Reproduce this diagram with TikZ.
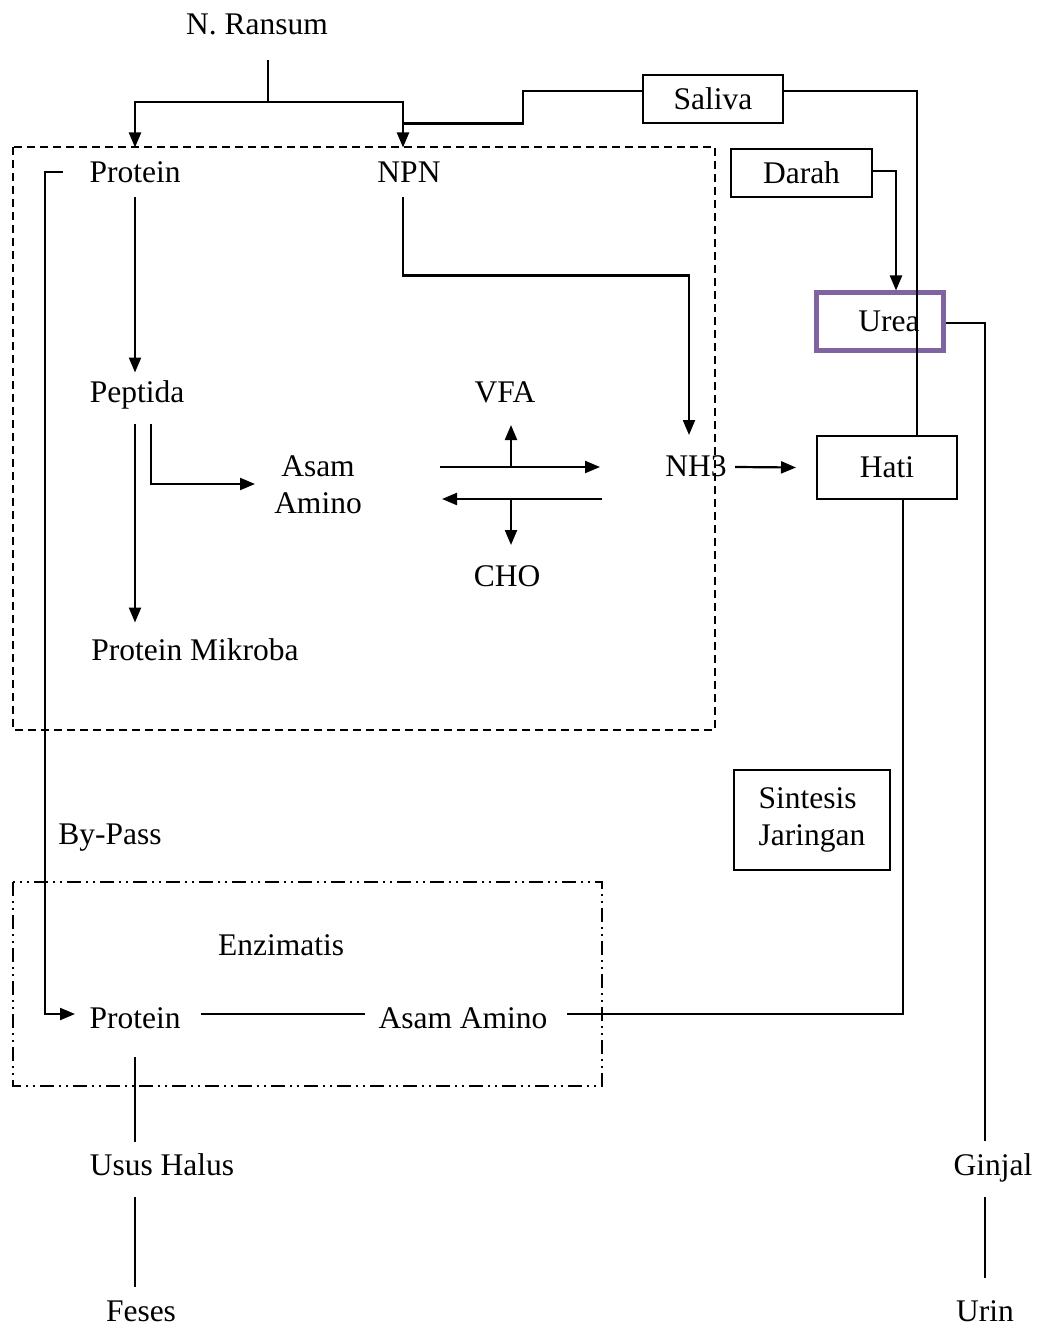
\documentclass[tikz,border=0pt]{standalone}
\usepackage{fontspec}
\setmainfont{Liberation Serif}
\usepackage{xcolor}
\usetikzlibrary{arrows.meta,calc}
\definecolor{ureapurple}{HTML}{8064A2}

\begin{document}
\begin{tikzpicture}[
    x=1pt,y=-1pt,
    >={Triangle[length=15pt,width=12pt]},
    every node/.style={font=\fontsize{31.5}{37}\selectfont},
    lbl/.style={inner sep=0pt,text height=21.1pt,text depth=5.3pt},
    box/.style={draw,line width=2pt,inner sep=0pt},
    link/.style={line width=2.2pt},
    arr/.style={link,->},
    rumenbox/.style={line width=1.6pt,dash pattern=on 8pt off 5pt},
    enzimbox/.style={line width=1.6pt,dash pattern=on 14pt off 5pt on 2pt off 5pt on 2pt off 5pt}
  ]
    \useasboundingbox (0,0) rectangle (1041,1329);
    % compartments
    \draw[rumenbox] (13,147) rectangle (715,730);
    \draw[enzimbox] (13,882) rectangle (602,1086);

    % texts
    \node[lbl] (ransum) at (257,26.5) {N. Ransum};
    \node[lbl] (protA) at (135,174.5) {Protein};
    \node[lbl] (npn) at (409,174.5) {NPN};
    \node[lbl] (pep) at (137,394.5) {Peptida};
    \node[lbl] (mikroba) at (195,652.5) {Protein Mikroba};
    \node[align=center,inner sep=0pt] (asamA) at (318,485) {Asam\\Amino};
    \node[lbl] (vfa) at (505,394.5) {VFA};
    \node[lbl] (cho) at (507,578.5) {CHO};
    \node[lbl] (nh) at (696,468.5) {NH3};
    \node[lbl] (bypass) at (110,836.5) {By-Pass};
    \node[lbl] (enzim) at (281,947.5) {Enzimatis};
    \node[lbl] (protB) at (135,1020.5) {Protein};
    \node[lbl] (asamB) at (463,1020.5) {Asam Amino};
    \node[lbl] (usus) at (162,1167.5) {Usus Halus};
    \node[lbl] (ginjal) at (993,1167.5) {Ginjal};
    \node[lbl] (feses) at (141,1314) {Feses};
    \node[lbl] (urin) at (985,1314) {Urin};

    % boxes
    \node[box,minimum width=140pt,minimum height=48pt] (saliva) at (713,99) {Saliva};
    \node[box,minimum width=141pt,minimum height=48pt] (darah) at (801.5,173) {Darah};
    \node[box,draw=ureapurple,line width=5pt,minimum width=127pt,minimum height=57pt] (urea) at (879.5,321.5) {\hspace{19pt}Urea};
    \node[box,minimum width=140pt,minimum height=63pt] (hati) at (887,467.5) {Hati};
    \node[box,align=left,minimum width=156pt,minimum height=100pt] (sintesis) at (812,820) {Sintesis\\Jaringan};

    % free ends of the fermentation arrows
    \coordinate (fwdL) at (440,467);
    \coordinate (fwdR) at (600,467);
    \coordinate (bwdL) at (442,499);
    \coordinate (bwdR) at (602,499);
    \coordinate (hubU) at (511,467);
    \coordinate (hubD) at (511,499);
    \coordinate (split) at (268,102);

    % feed
    \draw[link] ($(ransum)+(11,34)$) -- (split);
    \draw[arr] (split) -| ($(protA)+(0,-27)$);
    \draw[arr] (split) -| ($(npn)+(-6,-27)$);
    \draw[link] ($(npn)+(-6,-51)$) -- (523,123.5) |- ($(saliva.west)+(0,-8)$);
    \draw[link] ($(saliva.east)+(0,-8)$) -| ($(hati.north)+(30,0)$);

    % rumen
    \draw[arr] ($(protA)+(0,23)$) -- ($(pep)+(-2,-22)$);
    \draw[arr] ($(pep)+(-2,29)$) -- ($(mikroba)+(-60,-30)$);
    \draw[arr] ($(pep)+(14,29)$) |- ($(asamA)+(-63,-1)$);
    \draw[arr] (fwdL) -- (fwdR);
    \draw[arr] (bwdR) -- (bwdL);
    \draw[arr] (hubU) -- ($(vfa)+(6,30.5)$);
    \draw[arr] (hubD) -- ($(cho)+(4,-33.5)$);
    \draw[arr] ($(npn)+(-6,23)$) -- ++(0,78) -| ($(nh)+(-7,-33.5)$);
    \draw[arr] ($(nh)+(39,-1.5)$) -- ($(hati.west)+(-20,0)$);

    % urea cycle
    \draw[arr] ($(darah.east)+(0,-2)$) -| ($(urea.north)+(16.5,0)$);
    \draw[link] ($(urea.east)+(0,1.5)$) -| ($(ginjal)+(-8,-27)$);
    \draw[link] ($(ginjal)+(-8,29.5)$) -- ($(urin)+(0,-36.5)$);

    % by-pass and intestine
    \draw[arr] ($(protA)+(-72,-2.5)$) -- ++(-18,0) |- ($(protB)+(-60,-6.5)$);
    \draw[link] ($(protB)+(66,-6.5)$) -- ($(asamB)+(-98,-6.5)$);
    \draw[link] ($(hati.south)+(16,0)$) |- ($(asamB)+(104,-6.5)$);
    \draw[link] ($(protB)+(0,36.5)$) -- ($(usus)+(-27,-25.5)$);
    \draw[link] ($(usus)+(-27,29.5)$) -- ($(feses)+(-6,-27)$);
  \end{tikzpicture}
\end{document}
